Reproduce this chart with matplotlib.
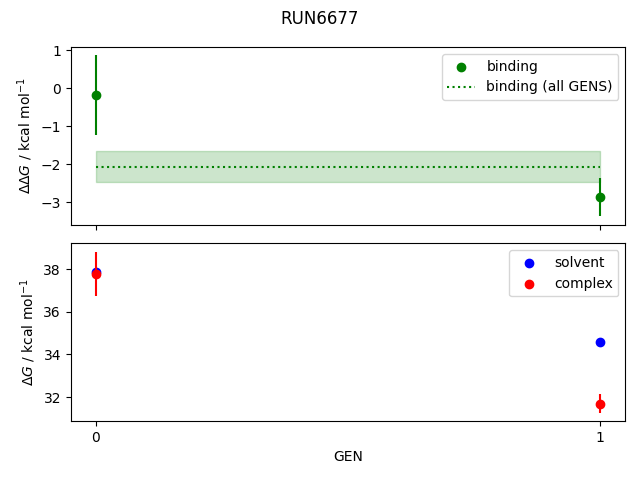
import matplotlib
matplotlib.use("Agg")
import matplotlib.pyplot as plt

gens = [0, 1]
binding = [-0.18, -2.87]
binding_err = [1.05, 0.5]
binding_all = -2.06
binding_all_err = 0.41

solvent = [37.88, 34.6]
solvent_err = [0.05, 0.08]
complex_ = [37.78, 31.7]
complex_err = [1.05, 0.44]

fig, (ax1, ax2) = plt.subplots(2, 1, sharex=True, figsize=(6.4, 4.8), dpi=100)

ax1.scatter(gens, binding, color="green", label="binding")
ax1.errorbar(gens, binding, yerr=binding_err, color="green", linestyle="none")
ax1.hlines(binding_all, gens[0], gens[-1], color="green", linestyle=":",
           label="binding (all GENS)")
ax1.fill_between(gens, binding_all - binding_all_err, binding_all + binding_all_err,
                 color="green", alpha=0.2)
ax1.set_ylabel(r"$\Delta\Delta G$ / kcal mol$^{-1}$")
ax1.legend()

ax2.scatter(gens, solvent, color="blue", label="solvent")
ax2.errorbar(gens, solvent, yerr=solvent_err, color="blue", linestyle="none")
ax2.scatter(gens, complex_, color="red", label="complex")
ax2.errorbar(gens, complex_, yerr=complex_err, color="red", linestyle="none")
ax2.set_ylabel(r"$\Delta G$ / kcal mol$^{-1}$")
ax2.set_xlabel("GEN")
ax2.set_xticks(gens)
ax2.legend()

fig.suptitle("RUN6677")
plt.subplots_adjust(left=0.1106, right=0.977, top=0.902, bottom=0.123, hspace=0.107)
plt.savefig("out.png")
